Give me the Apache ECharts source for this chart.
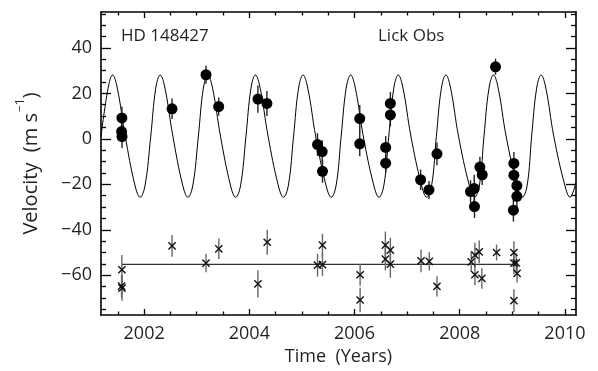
<!DOCTYPE html>
<html>
<head>
<meta charset="utf-8">
<script src="https://cdn.jsdelivr.net/npm/echarts@6/dist/echarts.min.js"></script>
<style>
html,body{margin:0;padding:0;background:#fff;}
#c{width:598px;height:371px;}
</style>
</head>
<body>
<div id="c"></div>
<script>
// ---- Data ----
// Lick velocities (filled circles): year, velocity, error
const velYears = [2001.577,2001.571,2001.580,2002.531,2003.176,2003.417,2004.163,2004.334,2005.296,2005.385,2005.391,2006.099,2006.099,2006.592,2006.592,2006.681,2006.681,2007.256,2007.415,2007.567,2008.205,2008.275,2008.280,2008.383,2008.427,2008.680,2009.029,2009.029,2009.086,2009.086,2009.020];
const velValues = [9.2,3.2,1.0,13.2,28.2,14.2,17.5,15.6,-2.5,-5.6,-14.3,8.9,-2.2,-3.8,-10.7,15.6,10.5,-18.0,-22.5,-6.6,-23.2,-21.8,-29.8,-12.4,-15.8,31.7,-10.8,-16.0,-20.6,-25.3,-31.4];
const velErrors = [5,4,5,4.5,4,4,6,5.5,5,5,5,6,5.5,5,4,5,5,4.5,4,5,5,6,5,4.5,4.5,3.5,5,5,5,5,5];

// Residuals (crosses, offset to -55): year, value, error
const resYears = [2001.577,2001.571,2001.580,2002.531,2003.176,2003.420,2004.163,2004.340,2005.296,2005.390,2005.390,2006.106,2006.106,2006.586,2006.586,2006.681,2006.681,2007.264,2007.421,2007.567,2008.218,2008.288,2008.288,2008.370,2008.420,2008.700,2009.030,2009.030,2009.030,2009.075,2009.090];
const resValues = [-57.6,-64.8,-65.7,-47.1,-54.7,-48.4,-63.8,-45.5,-55.6,-55.3,-46.8,-59.8,-70.9,-46.8,-52.9,-49.0,-55.1,-53.7,-53.9,-64.9,-54.1,-51.2,-59.8,-49.7,-61.4,-50.0,-50.0,-54.7,-71.2,-54.6,-59.2];
const resErrors = [6.5,5,5.5,4.8,4,4.5,6,5.5,5,5,5,4.8,5.4,6,5,5.5,6,5,4,4.5,4.5,5.5,4.5,5,4.5,3.5,5,5,5,4,4];

// Residual zero line (drawn at -55)
const resLineYears = [2001.577, 2009.10];
const resLineValues = [-55.2, -55.2];

// Keplerian fit curve: points
// (per cycle: rise crossing, pre-peak shoulder, peak, post-peak shoulder, fall crossing,
//  pre-trough shoulder, trough, post-trough shoulder)
const fitYears = [2001.18,
 2001.315,2001.400,2001.490,2001.640,2001.824,2001.924,2002.019,
 2002.126,2002.221,2002.306,2002.396,2002.546,2002.732,2002.832,2002.927,
 2003.031,2003.126,2003.211,2003.301,2003.451,2003.640,2003.740,2003.835,
 2003.936,2004.031,2004.116,2004.206,2004.356,2004.548,2004.648,2004.743,
 2004.841,2004.936,2005.021,2005.111,2005.261,2005.456,2005.556,2005.651,
 2005.746,2005.841,2005.926,2006.016,2006.166,2006.364,2006.464,2006.559,
 2006.651,2006.746,2006.831,2006.921,2007.071,2007.272,2007.372,2007.467,
 2007.556,2007.651,2007.736,2007.826,2007.976,2008.180,2008.280,2008.375,
 2008.461,2008.556,2008.641,2008.731,2008.881,2009.088,2009.188,2009.283,
 2009.367,2009.462,2009.547,2009.637,2009.787,2009.996,2010.096,2010.21];
const fitValues = [1.0,
 22.3,28.1,22.3,1.2,-20.3,-25.7,-20.3,
 1.2,22.3,28.1,22.3,1.2,-20.3,-25.7,-20.3,
 1.2,22.3,28.1,22.3,1.2,-20.3,-25.7,-20.3,
 1.2,22.3,28.1,22.3,1.2,-20.3,-25.7,-20.3,
 1.2,22.3,28.1,22.3,1.2,-20.3,-25.7,-20.3,
 1.2,22.3,28.1,22.3,1.2,-20.3,-25.7,-20.3,
 1.2,22.3,28.1,22.3,1.2,-20.3,-25.7,-20.3,
 1.2,22.3,28.1,22.3,1.2,-20.3,-25.7,-20.3,
 1.2,22.3,28.1,22.3,1.2,-20.3,-25.7,-20.3,
 1.2,22.3,28.1,22.3,1.2,-20.3,-25.7,-19.0];

// Ticks
const xMajorTicks = [2002,2004,2006,2008,2010];
const xMinorTicks = [2001.5,2002.5,2003,2003.5,2004.5,2005,2005.5,2006.5,2007,2007.5,2008.5,2009,2009.5];
const yMajorTicks = [-60,-40,-20,0,20,40];
const yMinorTicks = [-75,-70,-65,-55,-50,-45,-35,-30,-25,-15,-10,-5,5,10,15,25,30,35,45,50,55];

const X_MIN = 2001.18, X_MAX = 2010.21, Y_MIN = -77.5, Y_MAX = 55.8;
const FONT = '"Open Sans", "Noto Sans", sans-serif';
const TXT = '#231f20';

// ---- Build option ----
const zip3 = (a,b,c) => a.map((v,i)=>[v,b[i],c[i]]);
const velData = zip3(velYears, velValues, velErrors);
const resData = zip3(resYears, resValues, resErrors);
const fitData = fitYears.map((v,i)=>[v, fitValues[i]]);
const resLine = resLineYears.map((v,i)=>[v, resLineValues[i]]);

function xAxisDef(pos, ticks, len, labels, line) {
  return {
    type:'value', position:pos, min:X_MIN, max:X_MAX, gridIndex:0,
    axisLine:{show:line, onZero:false, lineStyle:{color:'#000', width:1.6}},
    axisTick:{show:true, inside:true, length:len, customValues:ticks, lineStyle:{color:'#000', width:1.3}},
    axisLabel:{show:labels, customValues:ticks, color:TXT, fontSize:18, fontFamily:FONT, margin:10,
               formatter:v=>String(v)},
    splitLine:{show:false}
  };
}
function yAxisDef(pos, ticks, len, labels, line) {
  return {
    type:'value', position:pos, min:Y_MIN, max:Y_MAX, gridIndex:0,
    axisLine:{show:line, onZero:false, lineStyle:{color:'#000', width:1.6}},
    axisTick:{show:true, inside:true, length:len, customValues:ticks, lineStyle:{color:'#000', width:1.3}},
    axisLabel:{show:labels, customValues:ticks, color:TXT, fontSize:18, fontFamily:FONT, margin:9,
               formatter:v=>String(v).replace('-','\u2212')},
    splitLine:{show:false}
  };
}

const xAxes = [
  xAxisDef('bottom', xMajorTicks, 6, true, true),
  xAxisDef('bottom', xMinorTicks, 3.5, false, false),
  xAxisDef('top', xMajorTicks, 6, false, true),
  xAxisDef('top', xMinorTicks, 3.5, false, false)
];
xAxes[0].name = 'Time  (Years)';
xAxes[0].nameLocation = 'middle';
xAxes[0].nameGap = 33;
xAxes[0].nameTextStyle = {color:TXT, fontSize:18, fontFamily:FONT};

const yAxes = [
  yAxisDef('left', yMajorTicks, 10, true, true),
  yAxisDef('left', yMinorTicks, 5, false, false),
  yAxisDef('right', yMajorTicks, 10, false, true),
  yAxisDef('right', yMinorTicks, 5, false, false)
];
yAxes[0].name = '{a|Velocity  (m s}{b|\u22121}{a|)}';
yAxes[0].nameLocation = 'middle';
yAxes[0].nameRotate = 90;
yAxes[0].nameGap = 60;
yAxes[0].nameTextStyle = {color:TXT, fontFamily:FONT,
  rich:{a:{fontSize:20, color:TXT, fontFamily:FONT, lineHeight:26, verticalAlign:'bottom'},
        b:{fontSize:12, color:TXT, fontFamily:FONT, lineHeight:26, verticalAlign:'top', padding:[0,0,0,1]}}};

function errBarRender(color) {
  return function(params, api) {
    const x = api.value(0), y = api.value(1), e = api.value(2);
    const p1 = api.coord([x, y - e]);
    const p2 = api.coord([x, y + e]);
    return {type:'line', shape:{x1:p1[0], y1:p1[1], x2:p2[0], y2:p2[1]},
            style:{stroke:color, lineWidth:1.4}};
  };
}
function crossRender(params, api) {
  const p = api.coord([api.value(0), api.value(1)]);
  const h = 3.6;
  return {type:'group', children:[
    {type:'line', shape:{x1:p[0]-h, y1:p[1]-h, x2:p[0]+h, y2:p[1]+h}, style:{stroke:'#111', lineWidth:1.4}},
    {type:'line', shape:{x1:p[0]-h, y1:p[1]+h, x2:p[0]+h, y2:p[1]-h}, style:{stroke:'#111', lineWidth:1.4}}
  ]};
}

const option = {
  animation:false,
  backgroundColor:'#fff',
  grid:{left:101, right:22, top:12, bottom:55, containLabel:false},
  xAxis:xAxes,
  yAxis:yAxes,
  graphic:[
    {type:'text', left:121, top:28, style:{text:'HD 148427', fill:TXT, font:'17px "Open Sans", sans-serif'}},
    {type:'text', left:378, top:28, style:{text:'Lick Obs', fill:TXT, font:'17px "Open Sans", sans-serif'}}
  ],
  series:[
    {type:'line', data:fitData, smooth:0.4, showSymbol:false, symbol:'none', clip:true,
     lineStyle:{color:'#000', width:1}, z:2},
    {type:'line', data:resLine, showSymbol:false, symbol:'none',
     lineStyle:{color:'#000', width:1}, z:2},
    {type:'custom', data:velData, renderItem:errBarRender('#222'), z:3},
    {type:'custom', data:resData, renderItem:errBarRender('#666'), z:3},
    {type:'scatter', data:velData.map(d=>[d[0],d[1]]), symbol:'circle', symbolSize:11,
     itemStyle:{color:'#000', opacity:1}, z:4},
    {type:'custom', data:resData, renderItem:crossRender, z:4}
  ]
};

const chart = echarts.init(document.getElementById('c'), null, {renderer:'canvas'});
chart.setOption(option);
</script>
</body>
</html>
